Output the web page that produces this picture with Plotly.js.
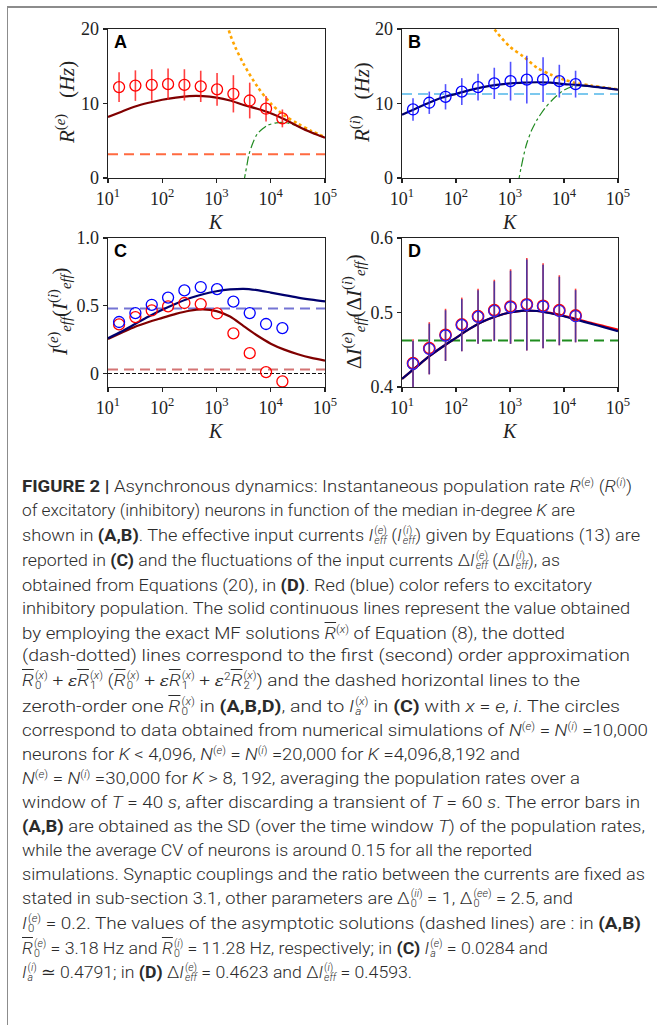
<!DOCTYPE html>
<html><head><meta charset="utf-8">
<script src="https://cdn.plot.ly/plotly-3.0.1.min.js"></script>
<style>
body{margin:0;background:#fff;}
#wrap{position:relative;width:657px;height:1025px;overflow:hidden;background:#fff;}
#plot{position:absolute;left:0;top:0;width:657px;height:450px;}
.fr{position:absolute;background:#8c8c8c;z-index:10;}
#cap{position:absolute;left:22px;top:0;width:640px;font-family:Roboto,"Liberation Sans",sans-serif;font-weight:300;font-size:17px;color:#2b2b2b;}
.ln{position:absolute;left:0;white-space:nowrap;transform-origin:0 50%;line-height:24px;display:inline-block;}
.ln b{font-weight:700;}
.ss{display:inline-block;vertical-align:-0.3em;line-height:1.0;font-size:0.6em;text-align:left;margin-left:1px;}
.ss span{display:block;}
.sp{font-size:0.62em;position:relative;top:-0.55em;}
.ob{text-decoration:overline;}
.eps{font-family:"DejaVu Serif",serif;font-style:italic;font-size:0.9em;}
</style>
</head><body>
<div id="wrap">
<div id="plot"></div>
<div class="fr" style="left:7px;top:6px;width:650px;height:1.5px;"></div>
<div class="fr" style="left:6.5px;top:6px;width:1.5px;height:1019px;"></div>
<div id="cap">
<div class="ln" data-w="610" style="top:474px"><b>FIGURE 2 |</b> Asynchronous dynamics: Instantaneous population rate <i>R</i><span class="sp">(<i>e</i>)</span> (<i>R</i><span class="sp">(<i>i</i>)</span>)</div>
<div class="ln" data-w="553" style="top:498px">of excitatory (inhibitory) neurons in function of the median in-degree <i>K</i> are</div>
<div class="ln" data-w="618" style="top:523px">shown in <b>(A,B)</b>. The effective input currents <i>I</i><span class="ss"><span>(<i>e</i>)</span><span><i>eff</i></span></span> (<i>I</i><span class="ss"><span>(<i>i</i>)</span><span><i>eff</i></span></span>) given by Equations (13) are</div>
<div class="ln" data-w="538" style="top:548px">reported in <b>(C)</b> and the fluctuations of the input currents Δ<i>I</i><span class="ss"><span>(<i>e</i>)</span><span><i>eff</i></span></span> (Δ<i>I</i><span class="ss"><span>(<i>i</i>)</span><span><i>eff</i></span></span>), as</div>
<div class="ln" data-w="570" style="top:573px">obtained from Equations (20), in <b>(D)</b>. Red (blue) color refers to excitatory</div>
<div class="ln" data-w="608" style="top:596px">inhibitory population. The solid continuous lines represent the value obtained</div>
<div class="ln" data-w="543" style="top:621px">by employing the exact MF solutions <span class="ob"><i>R</i></span><span class="sp">(<i>x</i>)</span> of Equation (8), the dotted</div>
<div class="ln" data-w="608" style="top:643px">(dash-dotted) lines correspond to the first (second) order approximation</div>
<div class="ln" data-w="558" style="top:668px"><span class="ob"><i>R</i></span><span class="ss"><span>(<i>x</i>)</span><span>0</span></span> + <span class="eps">ε</span><span class="ob"><i>R</i></span><span class="ss"><span>(<i>x</i>)</span><span>1</span></span> (<span class="ob"><i>R</i></span><span class="ss"><span>(<i>x</i>)</span><span>0</span></span> + <span class="eps">ε</span><span class="ob"><i>R</i></span><span class="ss"><span>(<i>x</i>)</span><span>1</span></span> + <span class="eps">ε</span><span class="sp">2</span><span class="ob"><i>R</i></span><span class="ss"><span>(<i>x</i>)</span><span>2</span></span>) and the dashed horizontal lines to the</div>
<div class="ln" data-w="598" style="top:694px">zeroth-order one <span class="ob"><i>R</i></span><span class="ss"><span>(<i>x</i>)</span><span>0</span></span> in <b>(A,B,D)</b>, and to <i>I</i><span class="ss"><span>(<i>x</i>)</span><span><i>a</i></span></span> in <b>(C)</b> with <i>x</i> = <i>e</i>, <i>i</i>. The circles</div>
<div class="ln" data-w="626" style="top:718px">correspond to data obtained from numerical simulations of <i>N</i><span class="sp">(<i>e</i>)</span> = <i>N</i><span class="sp">(<i>i</i>)</span> =10,000</div>
<div class="ln" data-w="498" style="top:742px">neurons for <i>K</i> &lt; 4,096, <i>N</i><span class="sp">(<i>e</i>)</span> = <i>N</i><span class="sp">(<i>i</i>)</span> =20,000 for <i>K</i> =4,096,8,192 and</div>
<div class="ln" data-w="558" style="top:766px"><i>N</i><span class="sp">(<i>e</i>)</span> = <i>N</i><span class="sp">(<i>i</i>)</span> =30,000 for <i>K</i> &gt; 8, 192, averaging the population rates over a</div>
<div class="ln" data-w="618" style="top:790px">window of <i>T</i> = 40 <i>s</i>, after discarding a transient of <i>T</i> = 60 <i>s</i>. The error bars in</div>
<div class="ln" data-w="623" style="top:814px"><b>(A,B)</b> are obtained as the SD (over the time window <i>T</i>) of the population rates,</div>
<div class="ln" data-w="510" style="top:838px">while the average CV of neurons is around 0.15 for all the reported</div>
<div class="ln" data-w="623" style="top:862px">simulations. Synaptic couplings and the ratio between the currents are fixed as</div>
<div class="ln" data-w="551" style="top:886px">stated in sub-section 3.1, other parameters are Δ<span class="ss"><span>(<i>ii</i>)</span><span>0</span></span> = 1, Δ<span class="ss"><span>(<i>ee</i>)</span><span>0</span></span> = 2.5, and</div>
<div class="ln" data-w="619" style="top:911px"><i>I</i><span class="ss"><span>(<i>e</i>)</span><span>0</span></span> = 0.2. The values of the asymptotic solutions (dashed lines) are : in <b>(A,B)</b></div>
<div class="ln" data-w="526" style="top:936px"><span class="ob"><i>R</i></span><span class="ss"><span>(<i>e</i>)</span><span>0</span></span> = 3.18 Hz and <span class="ob"><i>R</i></span><span class="ss"><span>(<i>i</i>)</span><span>0</span></span> = 11.28 Hz, respectively; in <b>(C)</b> <i>I</i><span class="ss"><span>(<i>e</i>)</span><span><i>a</i></span></span> = 0.0284 and</div>
<div class="ln" data-w="390" style="top:960px"><i>I</i><span class="ss"><span>(<i>i</i>)</span><span><i>a</i></span></span> ≃ 0.4791; in <b>(D)</b> Δ<i>I</i><span class="ss"><span>(<i>e</i>)</span><span><i>eff</i></span></span> = 0.4623 and Δ<i>I</i><span class="ss"><span>(<i>i</i>)</span><span><i>eff</i></span></span> = 0.4593.</div>
</div>
</div>
<script>
// ---------- DATA ----------
const K = [16,32,64,128,256,512,1024,2048,4096,8192,16384];
const Kc = [10,17.78,31.62,56.23,100,177.8,316.2,562.3,1000,1778,3162,5623,10000,17783,31623,56234,100000];
const tickK = [10,100,1000,10000,100000];
const tickKtext = ['10<sup>1</sup>','10<sup>2</sup>','10<sup>3</sup>','10<sup>4</sup>','10<sup>5</sup>'];

// Panel A : excitatory rate
const rateE   = [12.2,12.4,12.5,12.6,12.5,12.3,11.9,11.3,10.4,9.3,8.0];
const rateEsd = [2.0,2.05,2.1,2.1,2.1,2.1,2.2,2.5,2.4,1.7,1.2];
const mfRateE = [8.2,8.9,9.6,10.1,10.5,10.8,11.0,11.0,10.8,10.4,9.8,9.3,8.7,7.9,6.95,6.1,5.4];
const K1A     = [1585,1778,2239,3162,5623,10000,17783,31623,56234,100000];
const firstA  = [20.6,19.3,17.5,15.3,12.3,10.0,8.4,7.3,6.3,5.5];
const K2A     = [3162,3631,3981,4677,5623,7079,8913,12589,17783,25119,31623,56234,100000];
const secondA = [-0.7,1.7,3.2,4.7,5.9,6.6,7.1,7.4,7.45,7.2,6.95,6.1,5.4];
const R0e = 3.18;

// Panel B : inhibitory rate
const rateI   = [9.2,10.1,10.9,11.6,12.2,12.7,13.0,13.2,13.2,13.0,12.6];
const rateIsd = [1.5,1.5,1.7,1.8,1.8,2.1,2.6,3.2,3.0,2.2,1.8];
const mfRateI = [8.5,9.3,10.1,10.8,11.3,11.8,12.2,12.5,12.7,12.8,12.85,12.8,12.6,12.5,12.3,12.1,11.85];
const K1B     = [447,562,1000,1778,3162,5623,10000,17783,31623,56234,100000];
const firstB  = [20.6,19.6,17.6,16.3,14.8,13.9,13.2,12.7,12.4,12.15,11.9];
const K2B     = [1413,1585,1995,2512,3162,4467,6310,10000,15849,31623,56234,100000];
const secondB = [-0.8,1.2,4.4,6.4,7.8,9.4,10.6,11.8,12.35,12.3,12.1,11.85];
const R0i = 11.28;

// Panel C : effective input currents
const ieffE  = [0.362,0.416,0.465,0.495,0.52,0.512,0.443,0.296,0.15,0.01,-0.059];
const ieffI  = [0.38,0.446,0.507,0.56,0.613,0.638,0.623,0.53,0.446,0.365,0.335];
const mfIeffE = [0.255,0.3,0.345,0.38,0.41,0.44,0.463,0.473,0.46,0.42,0.35,0.28,0.22,0.176,0.142,0.115,0.095];
const mfIeffI = [0.26,0.31,0.365,0.42,0.47,0.515,0.555,0.585,0.607,0.62,0.625,0.615,0.597,0.578,0.56,0.545,0.532];
const IaE = 0.0284, IaI = 0.4791, zeroLevel = 0;

// Panel D : fluctuations
const dIE   = [0.432,0.452,0.470,0.484,0.495,0.503,0.508,0.511,0.509,0.503,0.496];
const dII   = [0.431,0.451,0.469,0.483,0.494,0.502,0.507,0.510,0.508,0.502,0.495];
const dIEsd = [0.032,0.035,0.035,0.036,0.037,0.041,0.050,0.062,0.057,0.047,0.036];
const dIIsd = [0.031,0.034,0.034,0.035,0.036,0.040,0.049,0.061,0.056,0.046,0.035];
const mfdIE = [0.411,0.426,0.441,0.454,0.466,0.478,0.488,0.495,0.500,0.5025,0.502,0.4995,0.4955,0.491,0.486,0.4815,0.477];
const mfdII = [0.411,0.426,0.441,0.454,0.466,0.478,0.488,0.495,0.500,0.5025,0.502,0.499,0.495,0.490,0.485,0.480,0.475];
const dI0 = 0.4623;

// ---------- LAYOUT HELPERS ----------
const W = 657, H = 450;
const dx = (a,b) => [a/W, b/W];
const dy = (t,b) => [1-b/H, 1-t/H];
const px = v => v/W, py = v => 1-v/H;
const serif = 'Liberation Serif, DejaVu Serif, serif';
const axBase = {showline:true, mirror:true, linecolor:'#222', linewidth:1.3, ticks:'outside', ticklen:4, tickwidth:1.2, tickcolor:'#222', showgrid:false, zeroline:false, tickfont:{family:serif,size:18,color:'#222'}};
function xax(dom, anchor){return Object.assign({}, axBase, {type:'log', range:[1,5], tickvals:tickK, ticktext:tickKtext, domain:dom, anchor:anchor});}
function yax(dom, anchor, rng, tv, tt){return Object.assign({}, axBase, {range:rng, tickvals:tv, ticktext:tt, domain:dom, anchor:anchor});}

const traces = [];
function line(x,y,xa,ya,color,width,dash){traces.push({x:x,y:y,xaxis:xa,yaxis:ya,mode:'lines',line:{color:color,width:width,dash:dash||'solid',shape:'spline',smoothing:0.8},hoverinfo:'skip'});}
function hline(v,xa,ya,color,width,dash){traces.push({x:[10,100000],y:[v,v],xaxis:xa,yaxis:ya,mode:'lines',line:{color:color,width:width,dash:dash},hoverinfo:'skip'});}
function circles(y,err,xa,ya,color,ecolor,lw){const t={x:K,y:y,xaxis:xa,yaxis:ya,mode:'markers',marker:{symbol:'circle-open',size:11,color:color,line:{color:color,width:lw||1.3}},cliponaxis:true};
  if(err){t.error_y={type:'data',array:err,visible:true,color:ecolor,thickness:1.6,width:0};}
  traces.push(t);}

// A
hline(R0e,'x','y','#ff6a40',2,'10px,6px');
line(K1A,firstA,'x','y','#ffa500',2.6,'dot');
line(K2A,secondA,'x','y','#228b22',1.2,'dashdot');
line(Kc,mfRateE,'x','y','#800000',2.2);
circles(rateE,rateEsd,'x','y','#ff0000','rgba(255,30,30,0.85)');
// B
hline(R0i,'x2','y2','#7cc8ee',2,'10px,6px');
line(K1B,firstB,'x2','y2','#ffa500',2.6,'dot');
line(K2B,secondB,'x2','y2','#228b22',1.2,'dashdot');
line(Kc,mfRateI,'x2','y2','#00006e',2.2);
circles(rateI,rateIsd,'x2','y2','#0000ff','rgba(40,40,255,0.8)');
// C
hline(zeroLevel,'x3','y3','#111',1.1,'4px,2px');
hline(IaE,'x3','y3','#d47474',2,'10px,6px');
hline(IaI,'x3','y3','#7474d4',2,'10px,6px');
line(Kc,mfIeffE,'x3','y3','#800000',2.2);
line(Kc,mfIeffI,'x3','y3','#00006e',2.2);
circles(ieffE,null,'x3','y3','#ff0000');
circles(ieffI,null,'x3','y3','#0000ff');
// D
hline(dI0,'x4','y4','#1e8c1e',2,'10px,6px');
line(Kc,mfdIE,'x4','y4','#ff0000',2.2);
line(Kc,mfdII,'x4','y4','#00006e',2.2);
circles(dIE,dIEsd,'x4','y4','#ff0000','rgba(255,40,40,0.9)',1.8);
circles(dII,dIIsd,'x4','y4','#2020ff','rgba(50,50,170,0.85)',1.2);

const tfont = {family:serif,size:21,color:'#222'};
function ann(text,x,y,opt){return Object.assign({text:text,x:px(x),y:py(y),xref:'paper',yref:'paper',showarrow:false,xanchor:'center',yanchor:'middle',font:tfont},opt||{});}
const lab = {family:'Liberation Sans, Arial, sans-serif',size:18,color:'#000'};
const kfont = {family:serif,size:20,color:'#222'};
const annotations = [
  ann('<i>R</i><sup>(<i>e</i>)</sup>   (<i>Hz</i>)',65,103,{textangle:-90}),
  ann('<i>R</i><sup>(<i>i</i>)</sup>   (<i>Hz</i>)',360,103,{textangle:-90}),
  ann('<i>I</i><sup>(<i>e</i>)</sup><sub><i>eff</i></sub>(<i>I</i><sup>(<i>i</i>)</sup><sub><i>eff</i></sub>)',59,312,{textangle:-90}),
  ann('Δ<i>I</i><sup>(<i>e</i>)</sup><sub><i>eff</i></sub>(Δ<i>I</i><sup>(<i>i</i>)</sup><sub><i>eff</i></sub>)',353,312,{textangle:-90}),
  ann('<i>K</i>',216,209,{yanchor:'top',font:kfont}),ann('<i>K</i>',510,209,{yanchor:'top',font:kfont}),
  ann('<i>K</i>',216,418,{yanchor:'top',font:kfont}),ann('<i>K</i>',510,418,{yanchor:'top',font:kfont}),
  ann('<b>A</b>',120,42,{font:lab}),ann('<b>B</b>',414,42,{font:lab}),
  ann('<b>C</b>',120,251,{font:lab}),ann('<b>D</b>',414,251,{font:lab})
];

const layout = {
  width:W, height:H, margin:{l:0,r:0,t:0,b:0}, paper_bgcolor:'rgba(0,0,0,0)', plot_bgcolor:'#fff', showlegend:false,
  xaxis: xax(dx(108,325),'y'), yaxis: yax(dy(29,178),'x',[0,20],[0,10,20],['0','10','20']),
  xaxis2: xax(dx(402,618),'y2'), yaxis2: yax(dy(29,178),'x2',[0,20],[0,10,20],['0','10','20']),
  xaxis3: xax(dx(108,325),'y3'), yaxis3: yax(dy(238,387),'x3',[-0.1,1.0],[0,0.5,1.0],['0','0.5','1.0']),
  xaxis4: xax(dx(402,618),'y4'), yaxis4: yax(dy(238,387),'x4',[0.4,0.6],[0.4,0.5,0.6],['0.4','0.5','0.6']),
  annotations: annotations
};
Plotly.newPlot('plot', traces, layout, {staticPlot:true, displayModeBar:false});

// fit caption lines to their measured widths in the reference
function fitCaption(){
  document.querySelectorAll('.ln').forEach(el=>{
    el.style.transform='none';
    const w = el.getBoundingClientRect().width;
    const t = parseFloat(el.dataset.w);
    if(w>0) el.style.transform='scaleX('+(t/w).toFixed(4)+')';
  });
}
if(document.fonts && document.fonts.ready){document.fonts.ready.then(fitCaption);} 
fitCaption();
</script>
</body></html>
